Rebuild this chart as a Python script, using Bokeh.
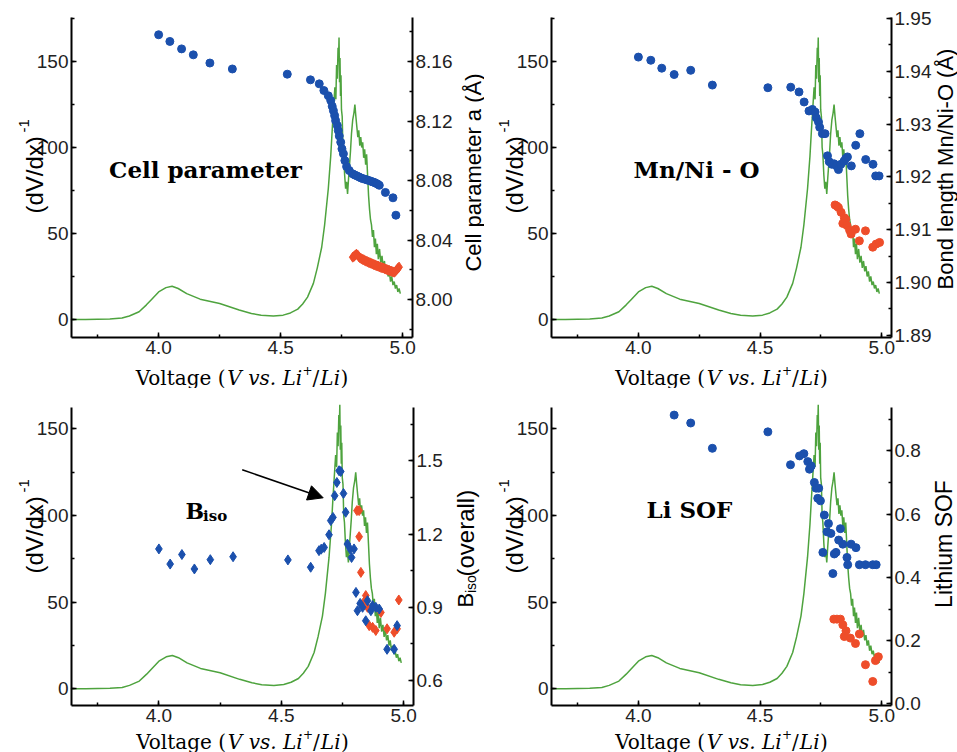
import math
from bokeh.plotting import figure
from bokeh.models import (Range1d, LinearAxis, SingleIntervalTicker, NumeralTickFormatter,
                          Label, Arrow, NormalHead)
from bokeh.layouts import gridplot
from bokeh.embed import file_html
from bokeh.resources import INLINE

# ---------------- data ----------------
voltage_curve = [3.64, 3.70, 3.80, 3.85, 3.88, 3.92, 3.95, 3.97, 4.00, 4.03, 4.055, 4.08, 4.115,
                 4.17, 4.25, 4.33, 4.38, 4.42, 4.47, 4.51, 4.54, 4.57, 4.59, 4.61, 4.634, 4.65,
                 4.668, 4.68, 4.695, 4.705, 4.711, 4.718, 4.722, 4.726, 4.729, 4.732, 4.735, 4.737,
                 4.739, 4.741, 4.743, 4.745, 4.747, 4.749, 4.752, 4.755, 4.758, 4.762, 4.766, 4.770,
                 4.774, 4.778, 4.782, 4.786, 4.790, 4.795, 4.800, 4.804, 4.808, 4.812, 4.816, 4.820,
                 4.824, 4.828, 4.832, 4.836, 4.840, 4.844, 4.848, 4.852, 4.856, 4.860, 4.864, 4.868,
                 4.872, 4.876, 4.880, 4.884, 4.888, 4.892, 4.896, 4.900, 4.905, 4.910, 4.915, 4.920,
                 4.925, 4.930, 4.935, 4.940, 4.945, 4.950, 4.955, 4.960, 4.965, 4.970, 4.975, 4.980,
                 4.985, 4.990]
dvdx_curve = [0, 0, 0.3, 0.8, 2, 4.5, 8.5, 11.5, 16, 18.5, 19.3, 18, 15,
              11.8, 9.3, 5.5, 3.5, 2.4, 2.0, 2.5, 3.8, 6, 9, 13, 21, 30,
              42, 55, 76, 95, 110, 126, 135, 128, 148, 140, 158, 150,
              164, 138, 152, 130, 142, 122, 118, 100, 96, 84, 76, 80,
              73, 82, 90, 98, 108, 116, 120, 125, 118, 112, 106, 110,
              101, 106, 100, 103, 94, 99, 90, 96, 84, 72, 64, 58,
              55, 48, 52, 42, 47, 38, 44, 35, 41, 33, 37, 30,
              34, 28, 31, 25, 28, 22, 25, 20, 22, 18, 20, 16,
              18, 15]

cell_blue_v = [4.000, 4.046, 4.094, 4.142, 4.210, 4.302, 4.527, 4.622, 4.658, 4.677, 4.695, 4.705,
               4.711, 4.716, 4.721, 4.725, 4.732, 4.736, 4.740, 4.746, 4.751, 4.757, 4.763, 4.770,
               4.781, 4.795, 4.803, 4.811, 4.820, 4.828, 4.836, 4.845, 4.853, 4.862, 4.870, 4.877,
               4.884, 4.890, 4.897, 4.904, 4.929, 4.960, 4.972]
cell_blue_a = [8.1780, 8.1735, 8.1685, 8.1645, 8.1590, 8.1550, 8.1515, 8.1477, 8.1450, 8.1405, 8.1370, 8.1338,
               8.1300, 8.1270, 8.1237, 8.1203, 8.1170, 8.1136, 8.1100, 8.1058, 8.1013, 8.0980, 8.0934, 8.0894,
               8.0867, 8.0845, 8.0838, 8.0832, 8.0825, 8.0818, 8.0813, 8.0809, 8.0805, 8.0800, 8.0795, 8.0791,
               8.0787, 8.0782, 8.0776, 8.0768, 8.0720, 8.0684, 8.0567]
cell_red_v = [4.795, 4.800, 4.805, 4.810, 4.815, 4.820, 4.825, 4.830, 4.835, 4.840, 4.845, 4.850, 4.855,
              4.860, 4.865, 4.870, 4.875, 4.880, 4.885, 4.890, 4.895, 4.900, 4.905, 4.910, 4.915, 4.920,
              4.925, 4.930, 4.935, 4.940, 4.945, 4.950, 4.955, 4.960, 4.965, 4.970, 4.975, 4.980, 4.985]
cell_red_a = [8.0285, 8.0290, 8.0298, 8.0305, 8.0300, 8.0288, 8.0280, 8.0275, 8.0270, 8.0268, 8.0262, 8.0258, 8.0255,
              8.0250, 8.0248, 8.0244, 8.0240, 8.0236, 8.0234, 8.0230, 8.0226, 8.0224, 8.0220, 8.0217, 8.0214, 8.0212,
              8.0208, 8.0205, 8.0202, 8.0198, 8.0196, 8.0192, 8.0190, 8.0186, 8.0184, 8.0190, 8.0200, 8.0210, 8.0218]

bond_blue_v = [4.000, 4.051, 4.096, 4.147, 4.215, 4.304, 4.532, 4.626, 4.660, 4.681, 4.701, 4.715,
               4.726, 4.731, 4.740, 4.745, 4.756, 4.767, 4.777, 4.784, 4.795, 4.804, 4.814, 4.822,
               4.832, 4.845, 4.852, 4.859, 4.875, 4.893, 4.910, 4.934, 4.964, 4.975, 4.989]
bond_blue_b = [1.9427, 1.9421, 1.9406, 1.9394, 1.9402, 1.9374, 1.9369, 1.9370, 1.9361, 1.9342, 1.9325, 1.9328,
               1.9323, 1.9312, 1.9304, 1.9294, 1.9282, 1.9282, 1.9240, 1.9229, 1.9224, 1.9225, 1.9221, 1.9214,
               1.9224, 1.9230, 1.9235, 1.9238, 1.9221, 1.9260, 1.9282, 1.9233, 1.9224, 1.9202, 1.9202]
bond_red_v = [4.808, 4.815, 4.822, 4.833, 4.840, 4.846, 4.852, 4.857, 4.868, 4.874, 4.892, 4.908,
              4.933, 4.963, 4.977, 4.991]
bond_red_b = [1.9147, 1.9145, 1.9142, 1.9133, 1.9112, 1.9123, 1.9120, 1.9108, 1.9099, 1.9092, 1.9101, 1.9079,
              1.9098, 1.9067, 1.9073, 1.9076]

biso_blue_v = [4.000, 4.046, 4.094, 4.145, 4.210, 4.303, 4.527, 4.620, 4.654, 4.663, 4.675, 4.695,
               4.702, 4.711, 4.718, 4.727, 4.736, 4.743, 4.754, 4.763, 4.770, 4.781, 4.787, 4.797,
               4.805, 4.811, 4.822, 4.832, 4.845, 4.852, 4.866, 4.873, 4.886, 4.900, 4.932, 4.961, 4.973]
biso_blue_b = [1.139, 1.077, 1.116, 1.057, 1.095, 1.107, 1.094, 1.064, 1.132, 1.138, 1.145, 1.197,
               1.255, 1.268, 1.357, 1.411, 1.459, 1.456, 1.366, 1.289, 1.159, 1.139, 1.104, 1.139,
               0.961, 0.886, 0.916, 0.900, 0.845, 0.927, 0.886, 0.907, 0.900, 0.893, 0.728, 0.728, 0.825]
biso_red_v = [4.809, 4.818, 4.818, 4.825, 4.836, 4.845, 4.852, 4.859, 4.873, 4.886, 4.907, 4.932,
              4.961, 4.973, 4.980]
biso_red_b = [1.296, 1.296, 1.189, 1.043, 0.920, 0.948, 0.900, 0.825, 0.818, 0.805, 0.879, 0.812,
              0.798, 0.812, 0.930]

sof_blue_v = [4.147, 4.215, 4.304, 4.532, 4.625, 4.662, 4.680, 4.696, 4.703, 4.710, 4.723, 4.730,
              4.741, 4.737, 4.748, 4.758, 4.764, 4.775, 4.781, 4.791, 4.799, 4.805, 4.812, 4.823,
              4.830, 4.840, 4.857, 4.860, 4.874, 4.894, 4.908, 4.933, 4.963, 4.977]
sof_blue_s = [0.913, 0.888, 0.808, 0.860, 0.756, 0.784, 0.791, 0.766, 0.742, 0.752, 0.700, 0.682,
              0.682, 0.650, 0.642, 0.479, 0.597, 0.544, 0.570, 0.539, 0.412, 0.474, 0.479, 0.518,
              0.554, 0.505, 0.463, 0.440, 0.505, 0.494, 0.440, 0.440, 0.440, 0.440]
sof_red_v = [4.803, 4.816, 4.830, 4.840, 4.846, 4.853, 4.871, 4.892, 4.908, 4.933, 4.963, 4.974, 4.986]
sof_red_s = [0.268, 0.268, 0.268, 0.250, 0.213, 0.231, 0.208, 0.191, 0.221, 0.124, 0.071, 0.137, 0.149]

# ---------------- style ----------------
GREEN = "#4ea33e"
BLUE = "#1b50ad"
RED = "#ee4d2a"
SANS = "Liberation Sans"
SERIF = "DejaVu Serif"

X_RANGE = (3.643, 5.04)
Y_TOP = (-10.5, 175.6)
Y_BOTTOM = (-9.6, 162.4)


def style_axis(ax, interval, fmt):
    ax.ticker = SingleIntervalTicker(interval=interval, num_minor_ticks=2)
    ax.formatter = NumeralTickFormatter(format=fmt)
    ax.axis_line_width = 2
    ax.axis_line_color = "black"
    ax.major_tick_in = 5
    ax.major_tick_out = 0
    ax.minor_tick_in = 3
    ax.minor_tick_out = 0
    ax.major_tick_line_width = 1.5
    ax.minor_tick_line_width = 1.5
    ax.major_tick_line_color = "black"
    ax.minor_tick_line_color = "black"
    ax.major_label_text_font = SANS
    ax.major_label_text_font_size = "19px"
    ax.major_label_text_color = "#222222"
    ax.major_label_standoff = 3


def extend(rng, lo_px, hi_px, span_px):
    upp = (rng[1] - rng[0]) / span_px
    return (rng[0] - lo_px * upp, rng[1] + hi_px * upp)


def make_panel(W, H, ox, oy, fl, fr, ft, fb, y_left, y_right, r_interval, r_fmt):
    # fl, fr, ft, fb: local pixel edges of the axes box inside this figure
    xr = extend(X_RANGE, fl, W - fr, fr - fl)
    yr = extend(y_left, H - fb, ft, fb - ft)
    rr = extend(y_right, H - fb, ft, fb - ft)
    p = figure(width=W, height=H, output_backend="svg", toolbar_location=None,
               x_range=Range1d(*xr), y_range=Range1d(*yr),
               x_axis_type=None, y_axis_type=None, min_border=0,
               min_border_left=0, min_border_right=0, min_border_top=0, min_border_bottom=0)
    p.outline_line_color = None
    p.background_fill_color = "white"
    p.border_fill_color = "white"
    p.extra_y_ranges = {"r": Range1d(*rr)}
    xa = LinearAxis(fixed_location=y_left[0], bounds=X_RANGE)
    style_axis(xa, 0.5, "0.0")
    p.add_layout(xa, "below")
    ya = LinearAxis(fixed_location=X_RANGE[0], bounds=y_left)
    style_axis(ya, 50, "0")
    p.add_layout(ya, "left")
    ra = LinearAxis(y_range_name="r", fixed_location=X_RANGE[1], bounds=y_right)
    style_axis(ra, r_interval, r_fmt)
    p.add_layout(ra, "right")
    p.line(voltage_curve, dvdx_curve, line_color=GREEN, line_width=1.5)
    geom = dict(left=ox + fl, right=ox + fr, top=oy + ft, bottom=oy + fb, xr=X_RANGE, yr=y_left)
    return p, geom


def to_data(g, px, py):
    x = g["xr"][0] + (px - g["left"]) * (g["xr"][1] - g["xr"][0]) / (g["right"] - g["left"])
    y = g["yr"][0] + (g["bottom"] - py) * (g["yr"][1] - g["yr"][0]) / (g["bottom"] - g["top"])
    return x, y


def text(p, g, s, px, py, size, font=SANS, style="normal", angle=0.0, align="left", color="black"):
    x, y = to_data(g, px, py)
    p.add_layout(Label(x=x, y=y, text=s, text_font=font, text_font_size=f"{size}px",
                       text_font_style=style, angle=angle, text_align=align,
                       text_baseline="alphabetic", text_color=color))


SERIF_W = {"V": 0.722, "o": 0.602, "l": 0.320, "t": 0.402, "a": 0.596, "g": 0.640, "e": 0.592,
           " ": 0.318, "(": 0.390, ")": 0.390, "v": 0.565, "s": 0.513, ".": 0.318, "L": 0.637,
           "i": 0.320, "/": 0.337, "+": 0.838}


def sw(s, size):
    return sum(SERIF_W.get(c, 0.6) for c in s) * size


def xlabel(p, g, baseline):
    pieces = [("Voltage (", "normal", 20, 0, 0), ("V vs. Li", "italic", 20, 0, 1),
              ("+", "normal", 12, -8, 0), ("/", "normal", 20, 0, 1), ("Li", "italic", 20, 0, 1),
              (")", "normal", 20, 0, 0)]
    total = sum(sw(t, s) + extra for t, _, s, _, extra in pieces)
    x = (g["left"] + g["right"]) / 2 - total / 2
    for t, st, s, dy, extra in pieces:
        text(p, g, t, x, baseline + dy, s, font=SERIF, style=st)
        x += sw(t, s) + extra


def ylabel_left(p, g, start_py):
    bx = g["left"] - 37.5
    text(p, g, "(dV/dx)", bx, start_py, 24, angle=math.pi / 2)
    text(p, g, "-1", bx - 10, start_py - 81, 15, angle=math.pi / 2)


# ---------------- panels ----------------
LW, RW = 484, 473      # column widths
TH, BH = 388, 364      # row heights
p1, g1 = make_panel(LW, TH, 0, 0, 71, 412, 17, 337, Y_TOP, (7.9745, 8.1896), 0.04, "0.00")
p2, g2 = make_panel(RW, TH, LW, 0, 551 - LW, 891 - LW, 17, 337, Y_TOP, (1.8896, 1.9502), 0.01, "0.00")
p3, g3 = make_panel(LW, BH, 0, TH, 71, 413, 407 - TH, 705 - TH, Y_BOTTOM, (0.498, 1.718), 0.3, "0.0")
p4, g4 = make_panel(RW, BH, LW, TH, 551 - LW, 891 - LW, 407 - TH, 705 - TH, Y_BOTTOM, (-0.005, 0.937), 0.2, "0.0")

# Cell parameter
p1.scatter(cell_red_v, cell_red_a, y_range_name="r", marker="diamond", size=10, color=RED)
p1.scatter(cell_blue_v, cell_blue_a, y_range_name="r", marker="circle", size=8, color=BLUE)
# Bond length
p2.scatter(bond_red_v, bond_red_b, y_range_name="r", marker="circle", size=8, color=RED)
p2.scatter(bond_blue_v, bond_blue_b, y_range_name="r", marker="circle", size=8, color=BLUE)
# B iso
p3.scatter(biso_red_v, biso_red_b, y_range_name="r", marker="diamond", size=10, color=RED)
p3.scatter(biso_blue_v, biso_blue_b, y_range_name="r", marker="diamond", size=10, color=BLUE)
# Li SOF
p4.scatter(sof_red_v, sof_red_s, y_range_name="r", marker="circle", size=8, color=RED)
p4.scatter(sof_blue_v, sof_blue_s, y_range_name="r", marker="circle", size=8, color=BLUE)

# axis labels
for p, g, yb, ys in [(p1, g1, 377, 213), (p2, g2, 377, 213), (p3, g3, 741, 573), (p4, g4, 741, 573)]:
    xlabel(p, g, yb)
    ylabel_left(p, g, ys)

text(p1, g1, "Cell parameter a (Å)", 472.5, 172, 22, angle=math.pi / 2, align="center")
text(p2, g2, "Bond length Mn/Ni-O (Å)", 945, 168.5, 22, angle=math.pi / 2, align="center")
text(p3, g3, "B", 465, 607, 22, angle=math.pi / 2)
text(p3, g3, "iso", 470, 592.5, 14, angle=math.pi / 2)
text(p3, g3, "(overall)", 465, 576, 24, angle=math.pi / 2)
text(p4, g4, "Lithium SOF", 943, 543.5, 23, angle=math.pi / 2, align="center")

# panel titles
text(p1, g1, "Cell parameter", 205, 169, 23, font=SERIF, style="bold", align="center")
text(p2, g2, "Mn/Ni - O", 696, 169, 23, font=SERIF, style="bold", align="center")
text(p3, g3, "B", 185, 510, 22, font=SERIF, style="bold")
text(p3, g3, "iso", 202.5, 515, 15, font=SERIF, style="bold")
text(p4, g4, "Li SOF", 689, 509, 23, font=SERIF, style="bold", align="center")

# arrow in B_iso panel
ax0, ay0 = to_data(g3, 241.7, 469.3)
ax1, ay1 = to_data(g3, 322.7, 497.3)
p3.add_layout(Arrow(x_start=ax0, y_start=ay0, x_end=ax1, y_end=ay1, line_width=1.5, line_color="black",
                    end=NormalHead(size=15, fill_color="black", line_color="black")))

grid = gridplot([[p1, p2], [p3, p4]], toolbar_location=None)
open("out.html", "w").write(file_html(grid, INLINE))
